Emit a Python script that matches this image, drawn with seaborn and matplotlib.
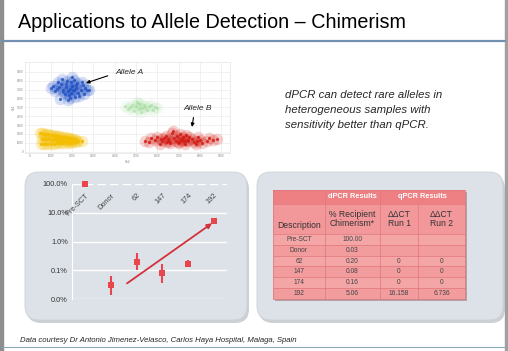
import numpy as np
import pandas as pd
import matplotlib
matplotlib.use("Agg")
import matplotlib.pyplot as plt
import matplotlib.transforms as mtransforms
from matplotlib.patches import FancyBboxPatch, Rectangle
import seaborn as sns

sns.set_style("white")
plt.rcParams['font.family'] = ['Liberation Sans', 'DejaVu Sans']

# droplet clusters (estimated amplitudes)
blue_x = [1900, 1700, 2100, 1800, 2000, 1600, 2200, 1500, 2300, 1950, 1850, 2050, 1400, 2400, 1750, 2150,
          1300, 2500, 1650, 2250, 1200, 2600, 1550, 2350, 1100, 2700, 1450, 2450, 2000, 1800, 1900, 2100,
          1700, 2800, 1000, 1600, 2200, 2550, 1350, 1950]
blue_y = [7100, 7300, 6900, 6800, 7400, 7000, 7200, 7600, 6600, 7800, 6400, 7000, 7300, 6900, 8000, 6200,
          7100, 7500, 6500, 7700, 6800, 7200, 8200, 6300, 7400, 6900, 5900, 7900, 8400, 5800, 6100, 8100,
          7600, 7000, 7200, 6700, 7500, 6500, 7900, 6600]
green_x = [5000, 5300, 5600, 4800, 5500, 5100, 4600, 5900, 5200, 4900, 5700, 5400, 4700, 6000, 5250, 5050,
           4500, 5800, 5350, 5150]
green_y = [5100, 4900, 5200, 5300, 4700, 5500, 4800, 5000, 5400, 4600, 5300, 5000, 5000, 4900, 4500, 5600,
           5200, 4700, 5300, 4800]
yellow_x = [500, 600, 700, 800, 900, 1000, 1100, 1200, 1300, 1400, 1500, 1600, 1700, 1800, 1900, 2000,
            2100, 2200, 2300, 2450, 550, 700, 850, 1000, 1150, 1300, 1450, 1600, 1750, 1900, 2050, 2200,
            600, 750, 900, 1050, 1200, 1350, 1500, 1650, 1800, 1950]
yellow_y = [2050, 2050, 2000, 1950, 1950, 1900, 1850, 1800, 1800, 1750, 1700, 1650, 1600, 1550, 1500, 1450,
            1400, 1350, 1250, 1150, 850, 850, 900, 900, 900, 950, 950, 950, 1000, 1000, 1050, 1050,
            1450, 1400, 1450, 1350, 1400, 1350, 1300, 1300, 1250, 1250]
red_x = [7100, 6800, 7400, 6500, 7700, 6200, 8000, 6900, 7200, 6600, 7500, 6300, 7800, 7000, 6700, 7300,
         5900, 8300, 5600, 8600, 6400, 7600, 6100, 7900, 6850, 7150, 6550, 7450, 5400, 8800, 6000, 8100,
         6750, 7050, 7350, 6450, 5700, 8400, 6150, 7850, 6950, 7250]
red_y = [1300, 1500, 1200, 1400, 1100, 1200, 1300, 1800, 1700, 1000, 1600, 1500, 900, 1100, 2100, 900,
         1300, 1200, 1100, 1300, 1800, 1400, 900, 1600, 1250, 1450, 1250, 1350, 1200, 1400, 1600, 1000,
         2300, 2000, 1900, 1100, 1500, 1500, 1450, 1150, 1000, 1200]
x_ticks = [0, 1000, 2000, 3000, 4000, 5000, 6000, 7000, 8000, 9000]
y_ticks = [0, 1000, 2000, 3000, 4000, 5000, 6000, 7000, 8000, 9000]

# chimerism results
samples = ['Pre-SCT', 'Donor', '62', '147', '174', '192']
chimerism = [100.00, 0.03, 0.20, 0.08, 0.16, 5.06]
err_lo = [100.00, 0.0135, 0.10, 0.035, 0.127, 4.6]
err_hi = [100.00, 0.062, 0.39, 0.16, 0.22, 5.5]
run1 = ['', '', '0', '0', '0', '16.158']
run2 = ['', '', '0', '0', '0', '6.736']
y_levels = [0.01, 0.1, 1, 10, 100]

fig = plt.figure(figsize=(5.08, 3.51), dpi=100)
bg = fig.add_axes([0, 0, 1, 1], zorder=0)
bg.set_xlim(0, 508)
bg.set_ylim(351, 0)
bg.axis('off')

# slide frame
bg.add_patch(Rectangle((0, 0), 2.5, 351, color='#8e8e8e'))
bg.add_patch(Rectangle((504.5, 0), 3.5, 351, color='#a0a0a0'))
bg.plot([2, 505], [41, 41], color='#7291b0', lw=1.6)
bg.plot([2, 505], [346.5, 346.5], color='#8fa5bb', lw=0.8)
bg.text(18, 28, 'Applications to Allele Detection \u2013 Chimerism', fontsize=14.2, color='black')
bg.text(285, 95, 'dPCR can detect rare alleles in', fontsize=8.2, style='italic', va='center')
bg.text(285, 110, 'heterogeneous samples with', fontsize=8.2, style='italic', va='center')
bg.text(285, 125, 'sensitivity better than qPCR.', fontsize=8.2, style='italic', va='center')
bg.text(20, 342, 'Data courtesy Dr Antonio Jimenez-Velasco, Carlos Haya Hospital, Malaga, Spain',
        fontsize=5.6, style='italic', va='baseline')

# rounded panels with a soft shadow
for x0, x1 in [(25, 247), (257, 503)]:
    bg.add_patch(FancyBboxPatch((x0 + 10, 183), x1 - x0 - 16, 132, boxstyle='round,pad=8,rounding_size=14',
                                fc='#aab0b7', ec='none', alpha=0.6))
    bg.add_patch(FancyBboxPatch((x0 + 8, 180), x1 - x0 - 16, 132, boxstyle='round,pad=8,rounding_size=14',
                                fc='#dde2e8', ec='#ccd2d9', lw=0.6))

# table
cols = [273, 325, 380, 418, 465]
rows = [234 + i * 10.83 for i in range(7)]
bg.add_patch(Rectangle((cols[0] + 1.5, 191.5), cols[-1] - cols[0], 299 - 190, fc='#b3a3a6', ec='none'))
bg.add_patch(Rectangle((cols[0], 190), cols[-1] - cols[0], 14, fc='#ee7f83', ec='none'))
bg.add_patch(Rectangle((cols[0], 204), cols[-1] - cols[0], 30, fc='#f2989a', ec='none'))
for i in range(6):
    bg.add_patch(Rectangle((cols[0], rows[i]), cols[-1] - cols[0], rows[i + 1] - rows[i],
                           fc='#f4a5a6' if i % 2 == 0 else '#f29c9e', ec='none'))
line_c = '#e0767b'
for yv in [190, 204, 234] + rows[1:]:
    bg.plot([cols[0], cols[-1]], [yv, yv], color=line_c, lw=0.5)
for k, xv in enumerate(cols):
    top = 204 if k == 3 else 190
    bg.plot([xv, xv], [top, rows[-1]], color=line_c, lw=0.5)
bg.text((cols[1] + cols[2]) / 2, 197, 'dPCR Results', color='white', fontsize=5.3, fontweight='bold',
        ha='center', va='center')
bg.text((cols[2] + cols[4]) / 2, 197, 'qPCR Results', color='white', fontsize=5.3, fontweight='bold',
        ha='center', va='center')
hdr = dict(fontsize=6.2, color='#333333', ha='center', va='center', linespacing=0.95)
bg.text((cols[0] + cols[1]) / 2, 226, 'Description', **hdr)
bg.text((cols[1] + cols[2]) / 2, 219, '% Recipient\nChimerism*', **hdr)
bg.text((cols[2] + cols[3]) / 2, 219, '\u0394\u0394CT\nRun 1', **hdr)
bg.text((cols[3] + cols[4]) / 2, 219, '\u0394\u0394CT\nRun 2', **hdr)
for i, s in enumerate(samples):
    yc = (rows[i] + rows[i + 1]) / 2
    cell = dict(fontsize=4.8, color='#444444', ha='center', va='center')
    bg.text((cols[0] + cols[1]) / 2, yc, s, **cell)
    bg.text((cols[1] + cols[2]) / 2, yc, f'{chimerism[i]:.2f}', **cell)
    bg.text((cols[2] + cols[3]) / 2, yc, run1[i], **cell)
    bg.text((cols[3] + cols[4]) / 2, yc, run2[i], **cell)

# 2D droplet plot
ax1 = fig.add_axes([25 / 508, (351 - 153) / 351, 205 / 508, 91 / 351], zorder=1)
clusters = [(green_x, green_y, '#9fdc98', 0.35), (yellow_x, yellow_y, '#f4bd00', 0.8),
            (blue_x, blue_y, '#1f4fc4', 0.6), (red_x, red_y, '#d21a12', 0.65)]
for cx, cy, col, a in clusters:
    # soft halo, then the droplets themselves
    sns.scatterplot(x=cx, y=cy, color=col, s=70, alpha=a * 0.3, linewidth=0, ax=ax1)
    sns.scatterplot(x=cx, y=cy, color=col, s=5, alpha=min(1, a + 0.2), linewidth=0, ax=ax1)
ax1.set_xlim(-200, 9400)
ax1.set_ylim(-150, 10100)
ax1.set_xticks(x_ticks)
ax1.set_yticks(y_ticks)
ax1.tick_params(labelsize=2.2, colors='#888888', length=0, pad=1)
ax1.grid(True, color='#ececec', lw=0.5)
for sp in ax1.spines.values():
    sp.set_color('#e4e4e4')
    sp.set_linewidth(0.5)
ax1.set_xlabel('Ch2', fontsize=2.2, color='#777777', labelpad=1)
ax1.set_ylabel('Ch1', fontsize=2.2, color='#777777', labelpad=1)

bg.annotate('Allele A', xy=(86, 83), xytext=(115, 72), fontsize=6, style='italic', va='center', ha='left',
            arrowprops=dict(arrowstyle='-|>', color='black', lw=0.8, mutation_scale=5, relpos=(0, 0.3),
                            shrinkA=3, shrinkB=0), zorder=5)
bg.annotate('Allele B', xy=(192, 127), xytext=(183, 108), fontsize=6, style='italic', va='center', ha='left',
            arrowprops=dict(arrowstyle='-|>', color='black', lw=0.8, mutation_scale=5, relpos=(0.4, 0),
                            shrinkA=2, shrinkB=0), zorder=5)
bg.set_zorder(2)
bg.patch.set_visible(False)
ax1.set_zorder(1)

# chimerism plot
ax2 = fig.add_axes([72 / 508, (351 - 299) / 351, 155 / 508, 115 / 351], zorder=3)
ax2.patch.set_visible(False)
ax2.set_yscale('log')
for v in y_levels:
    ax2.axhline(v, color='white', lw=1.0, ls=(0, (6, 3)) if v == 100 else '-', zorder=1)
xpos = np.arange(len(samples))
chim = np.array(chimerism)
ax2.errorbar(xpos, chim, yerr=[chim - np.array(err_lo), np.array(err_hi) - chim], fmt='none',
             ecolor='#e8464e', elinewidth=1.5, capsize=0, zorder=2)
sns.scatterplot(x=xpos, y=chim, marker='s', s=18, color='#e8464e', linewidth=0, ax=ax2, zorder=3, clip_on=False)
ax2.annotate('', xy=(4.92, 4.3), xytext=(1.63, 0.035),
             arrowprops=dict(arrowstyle='-|>', color='#d4303c', lw=1.3, mutation_scale=7, shrinkA=0, shrinkB=0))
ax2.set_xlim(-0.5, 5.5)
ax2.set_ylim(0.01, 100)
ax2.set_xticks([])
ax2.set_yticks(y_levels)
ax2.set_yticklabels([f'{v:.1f}%' for v in y_levels])
ax2.minorticks_off()
ax2.tick_params(axis='y', labelsize=5.3, colors='#333333', length=0, pad=3)
for k in ['top', 'right', 'bottom']:
    ax2.spines[k].set_visible(False)
ax2.spines['left'].set_color('white')
ax2.spines['left'].set_linewidth(0.8)
trans = mtransforms.blended_transform_factory(ax2.transData, ax2.transAxes)
for i, s in enumerate(samples):
    ax2.text(i, 0.93, s, transform=trans, rotation=45, ha='right', va='top', rotation_mode='anchor',
             fontsize=5.3, color='#444444')

fig.savefig('out.png', dpi=100)
